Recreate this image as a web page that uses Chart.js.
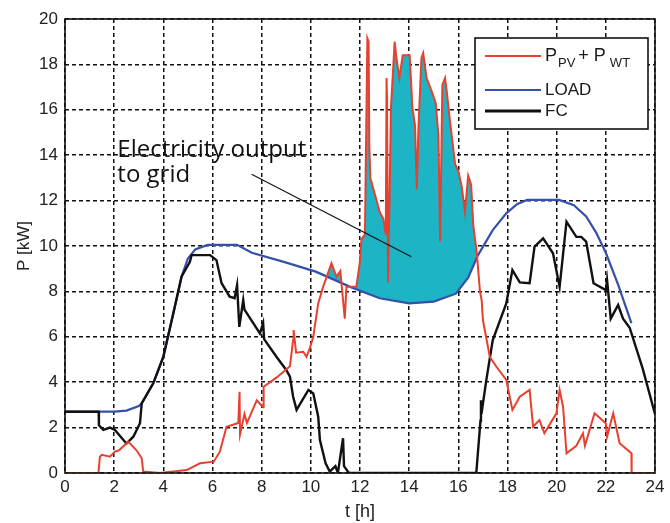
<!DOCTYPE html>
<html>
<head>
<meta charset="utf-8">
<script src="https://cdn.jsdelivr.net/npm/chart.js@4/dist/chart.umd.min.js"></script>
<style>
  html, body { margin: 0; padding: 0; background: #fff; }
  #wrap { width: 670px; height: 523px; }
</style>
</head>
<body>
<div id="wrap"><canvas id="c" width="670" height="523"></canvas></div>
<script>
// series: time [h] / power [kW]
const pvT = [0, 1.36, 1.42, 1.5, 1.83, 2.03, 2.2, 2.57, 2.91, 3.12, 3.18, 3.86, 4.95, 5.49, 6.05, 6.3, 6.57, 7.05, 7.1, 7.12, 7.3, 7.4, 7.8, 8.06, 8.08, 8.6, 9.15, 9.28, 9.3, 9.4, 9.69, 9.82, 9.96, 10.1, 10.3, 10.5, 10.84, 11.04, 11.2, 11.38, 11.45, 11.85, 11.99, 12.06, 12.2, 12.3, 12.35, 12.38, 12.42, 12.6, 12.8, 12.95, 13.05, 13.08, 13.1, 13.14, 13.2, 13.26, 13.41, 13.48, 13.6, 13.74, 13.9, 14.02, 14.08, 14.13, 14.24, 14.31, 14.38, 14.5, 14.57, 14.71, 14.92, 15.08, 15.19, 15.26, 15.35, 15.46, 15.53, 15.66, 15.87, 16.0, 16.14, 16.27, 16.4, 16.52, 16.61, 16.75, 16.88, 16.95, 17.0, 17.28, 17.55, 17.95, 18.2, 18.5, 18.9, 19.04, 19.3, 19.5, 19.99, 20.12, 20.26, 20.4, 20.8, 21.07, 21.15, 21.54, 22.0, 22.05, 22.3, 22.56, 23.04, 23.05, 24];
const pvP = [0, 0, 0.72, 0.8, 0.72, 0.94, 1.0, 1.38, 1.0, 0.65, 0.07, 0, 0.13, 0.43, 0.5, 0.94, 2.04, 2.2, 3.58, 1.7, 2.6, 2.2, 3.2, 2.9, 3.8, 4.2, 4.7, 5.86, 6.3, 5.3, 5.34, 5.12, 5.5, 6.0, 7.47, 8.2, 9.24, 8.65, 8.9, 6.8, 8.2, 8.2, 9.24, 10.3, 10.5, 19.15, 19.0, 14.4, 13.0, 12.3, 11.5, 11.2, 10.5, 17.4, 16.5, 8.4, 12.0, 16.1, 19.0, 18.3, 17.4, 18.4, 18.4, 18.4, 17.2, 16.1, 15.3, 12.5, 15.3, 18.3, 18.5, 17.4, 16.8, 16.3, 14.9, 10.2, 17.1, 17.4, 16.8, 15.5, 13.6, 13.3, 12.6, 11.5, 13.1, 12.7, 10.9, 9.7, 8.0, 7.6, 6.74, 5.12, 4.68, 4.1, 2.78, 3.36, 3.66, 2.04, 2.33, 1.75, 2.63, 3.66, 2.92, 0.87, 1.2, 1.75, 1.2, 2.63, 2.19, 1.6, 2.63, 1.31, 0.87, 0, 0];

const loadT = [0, 1.4, 2.0, 2.5, 3.0, 3.12, 3.59, 4.0, 4.4, 4.74, 5.0, 5.3, 5.8, 7.0, 7.6, 8.9, 10.2, 11.6, 12.8, 14.0, 15.0, 15.9, 16.4, 16.8, 17.4, 17.95, 18.4, 18.8, 20.1, 20.7, 21.2, 21.6, 22.0, 22.5, 23.04];
const loadP = [2.7, 2.7, 2.7, 2.75, 2.95, 3.07, 3.95, 5.12, 7.0, 8.65, 9.45, 9.85, 10.05, 10.05, 9.7, 9.3, 8.87, 8.2, 7.7, 7.47, 7.55, 7.9, 8.6, 9.6, 10.7, 11.44, 11.85, 12.03, 12.03, 11.8, 11.3, 10.6, 9.7, 8.3, 6.6];

const fcT = [0, 1.37, 1.38, 1.56, 1.83, 2.03, 2.5, 2.78, 3.05, 3.12, 3.59, 4.0, 4.4, 4.74, 5.08, 5.15, 5.9, 6.16, 6.37, 6.7, 6.9, 7.0, 7.09, 7.25, 7.3, 7.93, 8.06, 8.1, 8.6, 9.0, 9.15, 9.28, 9.42, 9.9, 10.1, 10.3, 10.37, 10.6, 10.77, 11.0, 11.1, 11.31, 11.35, 11.55, 16.73, 16.9, 16.92, 16.94, 17.14, 17.4, 17.95, 18.2, 18.5, 18.9, 19.1, 19.45, 19.85, 20.12, 20.4, 20.8, 21.0, 21.2, 21.5, 22.0, 22.05, 22.2, 22.5, 22.7, 22.97, 23.5, 24];
const fcP = [2.7, 2.7, 2.1, 1.9, 2.0, 1.9, 1.3, 1.6, 2.19, 3.07, 3.95, 5.12, 7.0, 8.65, 9.3, 9.6, 9.6, 9.38, 8.36, 7.77, 7.7, 8.28, 6.44, 7.62, 7.2, 6.15, 6.6, 5.9, 5.12, 4.54, 4.24, 3.36, 2.78, 3.66, 3.5, 2.48, 1.45, 0.43, 0.06, 0.3, 0, 1.53, 0.3, 0, 0, 2.3, 3.2, 2.6, 4.1, 5.86, 7.47, 8.94, 8.4, 8.36, 9.97, 10.34, 9.68, 8.2, 11.07, 10.4, 10.4, 10.19, 8.36, 8.06, 8.5, 6.8, 7.4, 6.8, 6.4, 4.6, 2.6];

const xTicks = [0, 2, 4, 6, 8, 10, 12, 14, 16, 18, 20, 22, 24];
const yTicks = [0, 2, 4, 6, 8, 10, 12, 14, 16, 18, 20];

const RED = '#e8402f', BLUE = '#3450aa', BLACK = '#111111', CYAN = '#1db4c6';
const FONT = "'Liberation Sans', Arial, sans-serif";

function pts(t, p) { return t.map(function (v, i) { return { x: v, y: p[i] }; }); }

// frame, annotation and legend with subscripts
const extras = {
  id: 'extras',
  afterDraw: function (chart) {
    const ctx = chart.ctx, a = chart.chartArea;
    const xs = chart.scales.x, ys = chart.scales.y;
    ctx.save();
    ctx.strokeStyle = '#111';
    ctx.lineWidth = 1.6;
    ctx.strokeRect(a.left, a.top, a.right - a.left, a.bottom - a.top);

    // pointer line
    ctx.lineWidth = 1.2;
    ctx.beginPath();
    ctx.moveTo(xs.getPixelForValue(7.59), ys.getPixelForValue(13.16));
    ctx.lineTo(xs.getPixelForValue(14.09), ys.getPixelForValue(9.53));
    ctx.stroke();

    ctx.fillStyle = '#111';
    ctx.font = "24px 'Open Sans', sans-serif";
    ctx.textBaseline = 'alphabetic';
    ctx.textAlign = 'left';
    const tx = xs.getPixelForValue(2.13);
    ctx.fillText('Electricity output', tx, ys.getPixelForValue(13.9));
    ctx.fillText('to grid', tx, ys.getPixelForValue(12.8));

    // legend
    const lx = a.right - 180, ly = a.top + 19, lw = 173, lh = 91;
    ctx.fillStyle = '#fff';
    ctx.fillRect(lx, ly, lw, lh);
    ctx.lineWidth = 1.6;
    ctx.strokeStyle = '#111';
    ctx.strokeRect(lx, ly, lw, lh);
    const rows = [
      { c: RED, w: 2.2, y: ly + 18 },
      { c: BLUE, w: 2.2, y: ly + 52 },
      { c: BLACK, w: 3, y: ly + 73 }
    ];
    rows.forEach(function (r) {
      ctx.strokeStyle = r.c;
      ctx.lineWidth = r.w;
      ctx.beginPath();
      ctx.moveTo(lx + 10, r.y);
      ctx.lineTo(lx + 66, r.y);
      ctx.stroke();
    });
    ctx.fillStyle = '#1a1a1a';
    ctx.textBaseline = 'middle';
    let x = lx + 70;
    const big = '18px ' + FONT, small = '13px ' + FONT;
    ctx.font = big; ctx.fillText('P', x, rows[0].y); x += ctx.measureText('P').width + 1;
    ctx.font = small; ctx.fillText('PV', x, rows[0].y + 7); x += ctx.measureText('PV').width + 3;
    ctx.font = big; ctx.fillText('+ P', x, rows[0].y); x += ctx.measureText('+ P').width + 4;
    ctx.font = small; ctx.fillText('WT', x, rows[0].y + 7);
    ctx.font = '17px ' + FONT;
    ctx.fillText('LOAD', lx + 70, rows[1].y);
    ctx.fillText('FC', lx + 70, rows[2].y);
    ctx.restore();
  }
};

new Chart(document.getElementById('c').getContext('2d'), {
  type: 'line',
  data: {
    datasets: [
      { label: 'P_PV + P_WT', data: pts(pvT, pvP), borderColor: RED, borderWidth: 2, order: 1,
        fill: { target: 1, above: CYAN, below: 'rgba(0,0,0,0)' } },
      { label: 'LOAD', data: pts(loadT, loadP), borderColor: BLUE, borderWidth: 2.2, order: 3, fill: false },
      { label: 'FC', data: pts(fcT, fcP), borderColor: BLACK, borderWidth: 2.4, order: 2, fill: false }
    ]
  },
  options: {
    responsive: false,
    animation: false,
    layout: { padding: { top: 19, right: 15, left: 0, bottom: 0 } },
    elements: { point: { radius: 0 }, line: { tension: 0 } },
    plugins: {
      legend: { display: false },
      tooltip: { enabled: false },
      filler: { drawTime: 'beforeDatasetsDraw' }
    },
    scales: {
      x: {
        type: 'linear', min: 0, max: 24,
        afterFit: function (s) { s.height = 50; },
        afterBuildTicks: function (s) { s.ticks = xTicks.map(function (v) { return { value: v }; }); },
        border: { display: false, dash: [4, 3] },
        grid: { color: '#111', lineWidth: 1.5, drawTicks: false },
        ticks: { color: '#222', font: { family: FONT, size: 17 }, padding: 4, maxRotation: 0 },
        title: { display: true, text: 't [h]', color: '#222', font: { family: FONT, size: 18 }, padding: { top: 0, bottom: 0 } }
      },
      y: {
        min: 0, max: 20,
        afterFit: function (s) { s.width = 65; },
        afterBuildTicks: function (s) { s.ticks = yTicks.map(function (v) { return { value: v }; }); },
        border: { display: false, dash: [4, 3] },
        grid: { color: '#111', lineWidth: 1.5, drawTicks: false },
        ticks: { color: '#222', font: { family: FONT, size: 17 }, padding: 7 },
        title: { display: true, text: 'P [kW]', color: '#222', font: { family: FONT, size: 17 }, padding: { top: 14, bottom: 0 } }
      }
    }
  },
  plugins: [extras]
});
</script>
</body>
</html>
